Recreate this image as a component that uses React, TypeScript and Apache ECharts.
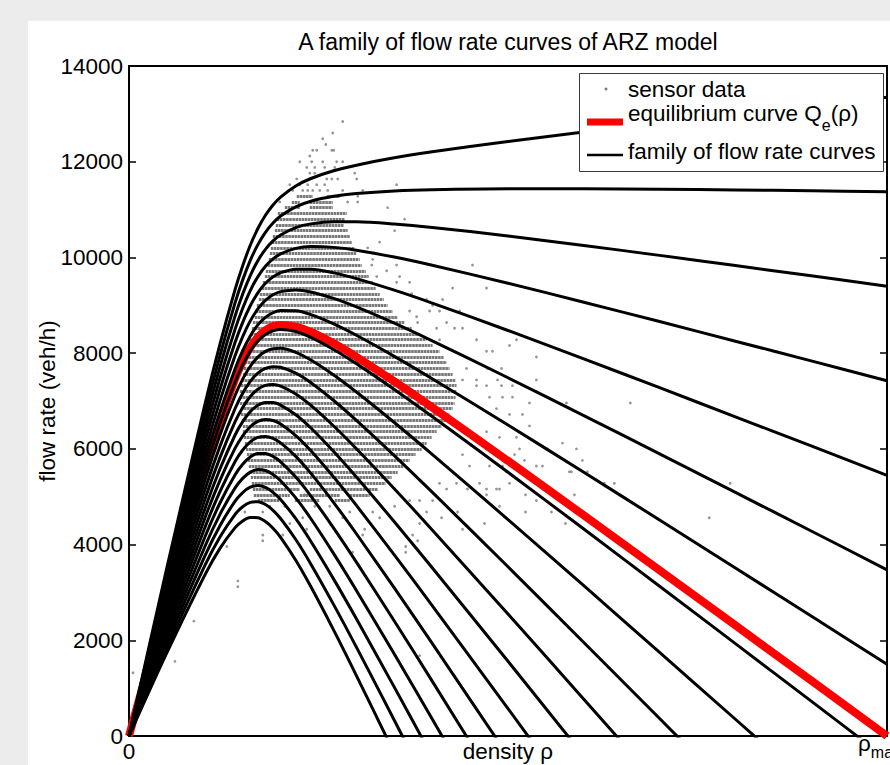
import React, { useEffect, useRef } from 'react';
import * as echarts from 'echarts';

// density grid (fraction of rho_max) shared by all model curves
const rhoGrid = [0, 0.05, 0.1, 0.12, 0.14, 0.15, 0.16, 0.17, 0.18, 0.19, 0.2, 0.22, 0.24, 0.27, 0.3, 0.35, 0.4, 0.5, 0.6, 0.7, 0.8, 0.9, 1.0];

// equilibrium curve Qe(rho) (veh/h)
const equilibriumFlow = [0, 2850, 5583, 6585, 7463, 7825, 8118, 8335, 8478, 8559, 8590, 8556, 8445, 8206, 7924, 7409, 6867, 5749, 4611, 3464, 2312, 1158, 0];

// family of flow rate curves (veh/h), from the highest to the lowest
const curve01 = [0, 3517, 6918, 8187, 9332, 9827, 10254, 10604, 10881, 11095, 11260, 11493, 11649, 11810, 11928, 12081, 12206, 12423, 12620, 12808, 12990, 13171, 13348];
const curve02 = [0, 3419, 6720, 7950, 9055, 9531, 9938, 10268, 10525, 10720, 10865, 11058, 11175, 11277, 11336, 11390, 11416, 11436, 11435, 11425, 11410, 11394, 11373];
const curve03 = [0, 3320, 6523, 7713, 8779, 9235, 9622, 9933, 10170, 10345, 10470, 10624, 10701, 10744, 10743, 10698, 10626, 10448, 10250, 10043, 9830, 9616, 9398];
const curve04 = [0, 3221, 6325, 7476, 8502, 8939, 9306, 9597, 9814, 9969, 10075, 10189, 10227, 10210, 10151, 10007, 9836, 9461, 9065, 8660, 8250, 7839, 7423];
const curve05 = [0, 3122, 6128, 7239, 8226, 8642, 8990, 9261, 9459, 9594, 9680, 9755, 9753, 9677, 9558, 9316, 9046, 8473, 7880, 7278, 6670, 6061, 5448];
const curve06 = [0, 3024, 5930, 7002, 7949, 8346, 8674, 8925, 9103, 9219, 9285, 9320, 9279, 9144, 8966, 8625, 8256, 7486, 6695, 5895, 5090, 4284, 3473];
const curve07 = [0, 2925, 5733, 6765, 7673, 8050, 8358, 8590, 8748, 8844, 8890, 8886, 8805, 8611, 8373, 7933, 7466, 6498, 5510, 4513, 3510, 2506, 1498];
const curve08 = [0, 2826, 5535, 6528, 7396, 7753, 8042, 8254, 8392, 8468, 8495, 8451, 8331, 8077, 7781, 7242, 6676, 5511, 4325, 3130, 1930, 729, -477];
const curve09 = [0, 2727, 5338, 6291, 7120, 7457, 7726, 7918, 8037, 8093, 8100, 8017, 7857, 7544, 7188, 6551, 5886, 4523, 3140, 1748, 350, -1049];
const curve10 = [0, 2629, 5140, 6054, 6843, 7161, 7410, 7582, 7681, 7718, 7705, 7582, 7383, 7011, 6596, 5860, 5096, 3536, 1955, 365, -1230];
const curve11 = [0, 2530, 4943, 5817, 6567, 6865, 7094, 7247, 7326, 7343, 7310, 7148, 6909, 6478, 6003, 5168, 4306, 2548, 770, -1017];
const curve12 = [0, 2431, 4745, 5580, 6290, 6568, 6778, 6911, 6970, 6967, 6915, 6713, 6435, 5944, 5411, 4477, 3516, 1561, -415];
const curve13 = [0, 2332, 4548, 5343, 6014, 6272, 6462, 6575, 6615, 6592, 6520, 6279, 5961, 5411, 4818, 3786, 2726, 573, -1600];
const curve14 = [0, 2234, 4350, 5106, 5737, 5976, 6146, 6239, 6259, 6217, 6125, 5844, 5487, 4878, 4226, 3095, 1936, -415];
const curve15 = [0, 2135, 4153, 4869, 5461, 5680, 5830, 5904, 5904, 5842, 5730, 5410, 5013, 4345, 3633, 2403, 1146, -1402];
const curve16 = [0, 2036, 3955, 4632, 5184, 5383, 5514, 5568, 5548, 5466, 5335, 4975, 4539, 3811, 3041, 1712, 356, -2390];
const curve17 = [0, 1937, 3758, 4395, 4908, 5087, 5198, 5232, 5193, 5091, 4940, 4541, 4065, 3278, 2448, 1021, -434];
const curve18 = [0, 1839, 3560, 4158, 4631, 4791, 4882, 4896, 4837, 4716, 4545, 4106, 3591, 2745, 1856, 330, -1224];
const curve19 = [0, 1740, 3363, 3921, 4355, 4495, 4566, 4561, 4482, 4341, 4150, 3672, 3117, 2212, 1263, -362];
const familyCurves = [curve01, curve02, curve03, curve04, curve05, curve06, curve07, curve08, curve09, curve10, curve11, curve12, curve13, curve14, curve15, curve16, curve17, curve18, curve19];

// dense rows of sensor data (flow quantised in 120 veh/h steps)
const rowFlow = [11280, 11280, 11160, 11160, 11040, 11040, 10920, 10800, 10680, 10560, 10440, 10320, 10200, 10080, 9960, 9840, 9720, 9600, 9480, 9360, 9240, 9120, 9000, 8880, 8760, 8640, 8520, 8400, 8280, 8160, 8040, 7920, 7800, 7680, 7560, 7440, 7320, 7200, 7080, 6960, 6840, 6720, 6600, 6480, 6360, 6240, 6120, 6000, 5880, 5760, 5640, 5520, 5400, 5280, 5160, 5160, 5040, 5040, 5040, 4920, 4920, 4920];
const rowStart = [0.2213, 0.2609, 0.2148, 0.2385, 0.2055, 0.2385, 0.1963, 0.195, 0.1937, 0.1924, 0.1897, 0.1884, 0.1871, 0.1858, 0.1845, 0.1831, 0.1805, 0.1792, 0.1765, 0.1752, 0.1726, 0.1713, 0.1686, 0.1673, 0.166, 0.1634, 0.1621, 0.1607, 0.1581, 0.1568, 0.1555, 0.1542, 0.1528, 0.1515, 0.1502, 0.1489, 0.1476, 0.1462, 0.1462, 0.1462, 0.1476, 0.1476, 0.1489, 0.1502, 0.1502, 0.1515, 0.1528, 0.1542, 0.1555, 0.1568, 0.1581, 0.1594, 0.1607, 0.1621, 0.1634, 0.2385, 0.1647, 0.2253, 0.2912, 0.17, 0.2187, 0.2714];
const rowEnd = [0.2424, 0.278, 0.2253, 0.2688, 0.2253, 0.2688, 0.2872, 0.2846, 0.2833, 0.2885, 0.2912, 0.2938, 0.2978, 0.3004, 0.3043, 0.307, 0.3123, 0.3162, 0.3215, 0.3254, 0.3307, 0.336, 0.3412, 0.3478, 0.3544, 0.3636, 0.3729, 0.3834, 0.3926, 0.4005, 0.4097, 0.415, 0.419, 0.4229, 0.4269, 0.4308, 0.4321, 0.4321, 0.4308, 0.4295, 0.4269, 0.4229, 0.419, 0.4124, 0.4058, 0.3992, 0.3926, 0.386, 0.3781, 0.3702, 0.3623, 0.3544, 0.3465, 0.3386, 0.2253, 0.3281, 0.2121, 0.278, 0.3175, 0.1989, 0.2516, 0.2912];

// isolated sensor measurements [rho / rho_max, flow]
const sensorPoints = [
  [0.2819, 12840], [0.2688, 12600], [0.2556, 12480], [0.2596, 12360], [0.2424, 12240], [0.2477, 12240], [0.2675, 12240], [0.2701, 12240],
  [0.2385, 12120], [0.2253, 12000], [0.2411, 12000], [0.2556, 12000], [0.274, 12000], [0.2819, 12000], [0.2345, 11880], [0.2451, 11880],
  [0.2582, 11880], [0.2714, 11880], [0.2385, 11760], [0.2451, 11760], [0.2978, 11760], [0.2213, 11640], [0.2609, 11640], [0.2675, 11640],
  [0.2754, 11640], [0.3004, 11640], [0.2121, 11520], [0.2253, 11520], [0.2358, 11520], [0.2477, 11520], [0.2582, 11520], [0.3531, 11520],
  [0.2161, 11400], [0.2292, 11400], [0.2358, 11400], [0.2424, 11400], [0.2516, 11400], [0.2622, 11400], [0.2819, 11400], [0.3083, 11400],
  [0.3017, 11280], [0.1989, 11160], [0.2885, 11160], [0.3017, 11160], [0.3412, 11040], [0.3636, 10800], [0.3505, 10560], [0.3307, 10320],
  [0.3149, 10200], [0.3215, 9960], [0.3202, 9840], [0.3531, 9840], [0.3399, 9720], [0.3267, 9600], [0.357, 9600], [0.3702, 9480],
  [0.3531, 9480], [0.4532, 9840], [0.4269, 9360], [0.4717, 9360], [0.3729, 9240], [0.3926, 9120], [0.4137, 9120], [0.4005, 9000],
  [0.3702, 8880], [0.3966, 8880], [0.4097, 8880], [0.4361, 8880], [0.3794, 8760], [0.3808, 8640], [0.419, 8640], [0.4058, 8520],
  [0.4295, 8520], [0.44, 8520], [0.4097, 8280], [0.4585, 8280], [0.5112, 8280], [0.502, 8160], [0.4717, 8040], [0.4796, 8040],
  [0.5375, 7920], [0.4453, 7680], [0.473, 7680], [0.4914, 7680], [0.44, 7440], [0.4585, 7440], [0.4862, 7440], [0.5375, 7440],
  [0.4585, 7320], [0.4717, 7320], [0.4914, 7320], [0.5059, 7320], [0.5375, 7200], [0.4756, 7080], [0.4928, 7080], [0.5059, 7080],
  [0.5283, 6960], [0.5771, 6960], [0.6614, 6960], [0.4848, 6840], [0.502, 6720], [0.5191, 6720], [0.5283, 6480], [0.4717, 6360],
  [0.4888, 6240], [0.5112, 6240], [0.5718, 6120], [0.5152, 6000], [0.552, 6000], [0.5903, 6000], [0.4848, 5880], [0.44, 5880],
  [0.5086, 5880], [0.5982, 5760], [0.5217, 5760], [0.4756, 5640], [0.4928, 5640], [0.4493, 5640], [0.5375, 5640], [0.5455, 5640],
  [0.581, 5520], [0.498, 5520], [0.5837, 5520], [0.6047, 5520], [0.4625, 5280], [0.502, 5280], [0.4321, 5280], [0.6271, 5280],
  [0.6403, 5280], [0.7931, 5280], [0.4097, 5280], [0.4717, 5160], [0.419, 5160], [0.4848, 5160], [0.4466, 5160], [0.4888, 5160],
  [0.5876, 5040], [0.5231, 5040], [0.4717, 5040], [0.4005, 4920], [0.3834, 4920], [0.3702, 4920], [0.5375, 4920], [0.4888, 4800],
  [0.5758, 4440], [0.5573, 4680], [0.5231, 4680], [0.469, 4440], [0.44, 4320], [0.4335, 4680], [0.4124, 4560], [0.3926, 4680],
  [0.3834, 4440], [0.3742, 4200], [0.3808, 4080], [0.365, 3960], [0.365, 3840], [0.7655, 4560], [0.3834, 1680],
  [0.2319, 5040], [0.1528, 4680], [0.1765, 4680], [0.1765, 4200], [0.1765, 4080], [0.1291, 3960], [0.2029, 4200], [0.2121, 4440],
  [0.2292, 4560], [0.2345, 4320], [0.2648, 4800], [0.2819, 4560], [0.2951, 3840], [0.3083, 4200], [0.3109, 4320], [0.3215, 4680],
  [0.1436, 3240], [0.1436, 3120], [0.0856, 2400], [0.0606, 1560], [0.0053, 1320], [0.1858, 4800], [0.2055, 4800], [0.2451, 4800],
  [0.2912, 4680], [0.3307, 4560], [0.3505, 4800]
];

const flowMin = 0;
const flowMax = 14000;
const flowStep = 2000;

const FONT = '"Liberation Sans", Arial, Helvetica, sans-serif';
const FS = 22.5;

export default function App() {
  const ref = useRef<HTMLDivElement>(null);

  useEffect(() => {
    const chart = echarts.init(ref.current as HTMLDivElement, undefined, { renderer: 'svg' });
    const toPairs = (vals: number[]) => vals.map((v, i) => [rhoGrid[i], v]);

    const series: any[] = [];
    series.push({
      type: 'lines',
      coordinateSystem: 'cartesian2d',
      silent: true,
      z: 1,
      lineStyle: { color: '#7a7a7a', width: 3, opacity: 1, type: [2.6, 0.5], curveness: 0 },
      data: rowFlow.map((f, i) => ({ coords: [[rowStart[i], f], [rowEnd[i], f]] })),
    });
    series.push({
      type: 'scatter',
      silent: true,
      z: 1,
      symbol: 'circle',
      symbolSize: 2.8,
      itemStyle: { color: '#7c7c7c' },
      data: sensorPoints,
    });
    series.push({
      type: 'line',
      silent: true,
      z: 2,
      showSymbol: false,
      symbol: 'none',
      smooth: 0.3,
      clip: true,
      lineStyle: { color: '#ff0000', width: 8 },
      data: toPairs(equilibriumFlow),
    });
    familyCurves.forEach((c) => {
      series.push({
        type: 'line',
        silent: true,
        z: 3,
        showSymbol: false,
        symbol: 'none',
        smooth: 0.3,
        clip: true,
        lineStyle: { color: '#000', width: 3 },
        data: toPairs(c),
      });
    });

    const axisLine = { show: true, onZero: false, lineStyle: { color: '#000', width: 2 } };
    const txt = { fontSize: FS, color: '#000', fontFamily: FONT };

    chart.setOption({
      animation: false,
      backgroundColor: 'transparent',
      title: {
        text: 'A family of flow rate curves of ARZ model',
        left: 508,
        top: 30,
        padding: 0,
        textAlign: 'center',
        textStyle: { ...txt, fontSize: 23, fontWeight: 'normal' },
      },
      grid: { left: 129, top: 66, right: 3, bottom: 29, containLabel: false, outerBoundsMode: 'none' },
      xAxis: [
        {
          type: 'value', min: 0, max: 1, interval: 1, position: 'bottom',
          axisLine, axisTick: { show: false }, splitLine: { show: false },
          axisLabel: { ...txt, margin: 4, formatter: (v: number) => (v === 0 ? '0' : '') },
          name: 'density ρ', nameLocation: 'middle', nameGap: 4, nameMoveOverlap: false,
          nameTextStyle: { ...txt, verticalAlign: 'top' },
        },
        {
          type: 'value', min: 0, max: 1, interval: 1, position: 'top',
          axisLine, axisTick: { show: false }, splitLine: { show: false }, axisLabel: { show: false },
        },
      ],
      yAxis: [
        {
          type: 'value', min: flowMin, max: flowMax, interval: flowStep, position: 'left',
          axisLine, axisTick: { show: true, inside: true, length: 7, lineStyle: { color: '#000', width: 1.5 } },
          splitLine: { show: false },
          axisLabel: { ...txt, margin: 6, formatter: (v: number) => String(v) },
          name: 'flow rate (veh/h)', nameLocation: 'middle', nameGap: 70, nameMoveOverlap: false,
          nameTextStyle: { ...txt },
        },
        {
          type: 'value', min: flowMin, max: flowMax, interval: flowStep, position: 'right',
          axisLine, axisTick: { show: true, inside: true, length: 7, lineStyle: { color: '#000', width: 1.5 } },
          splitLine: { show: false }, axisLabel: { show: false },
        },
      ],
      graphic: {
        elements: [
          { type: 'rect', z: 100, shape: { x: 579.5, y: 73.5, width: 304, height: 98 }, style: { fill: '#fff', stroke: '#3a3a3a', lineWidth: 1 } },
          { type: 'circle', z: 101, shape: { cx: 606, cy: 89, r: 1.5 }, style: { fill: '#7c7c7c' } },
          { type: 'text', z: 101, x: 628, y: 89, style: { text: 'sensor data', fontSize: FS, fontFamily: FONT, fill: '#000', verticalAlign: 'middle' } },
          { type: 'line', z: 101, shape: { x1: 587, y1: 122, x2: 623, y2: 122 }, style: { stroke: '#ff0000', lineWidth: 7 } },
          {
            type: 'text', z: 101, x: 628, y: 102,
            style: {
              text: '{a|equilibrium curve Q}{b|e}{a|(ρ)}',
              verticalAlign: 'top',
              rich: {
                a: { fontSize: FS, fontFamily: FONT, fill: '#000', lineHeight: 24, verticalAlign: 'top' },
                b: { fontSize: 16, fontFamily: FONT, fill: '#000', lineHeight: 46 },
              },
            },
          },
          { type: 'line', z: 101, shape: { x1: 587, y1: 155, x2: 623, y2: 155 }, style: { stroke: '#000', lineWidth: 2.5 } },
          { type: 'text', z: 101, x: 628, y: 151, style: { text: 'family of flow rate curves', fontSize: FS, fontFamily: FONT, fill: '#000', verticalAlign: 'middle' } },
          {
            type: 'text', z: 101, x: 858, y: 732,
            style: {
              text: '{r|ρ}{s|max}',
              verticalAlign: 'top',
              rich: {
                r: { fontSize: FS, fontFamily: FONT, fill: '#000', lineHeight: 24, verticalAlign: 'top' },
                s: { fontSize: 16, fontFamily: FONT, fill: '#000', lineHeight: 40 },
              },
            },
          },
        ],
      },
      series,
    });
    return () => chart.dispose();
  }, []);

  return (
    <div style={{ position: 'absolute', left: 0, top: 0, width: 890, height: 765, background: '#ececec', overflow: 'hidden' }}>
      <div style={{ position: 'absolute', left: 28, top: 21, width: 862, height: 744, background: '#ffffff' }} />
      <div ref={ref} style={{ position: 'absolute', left: 0, top: 0, width: 890, height: 765 }} />
    </div>
  );
}
